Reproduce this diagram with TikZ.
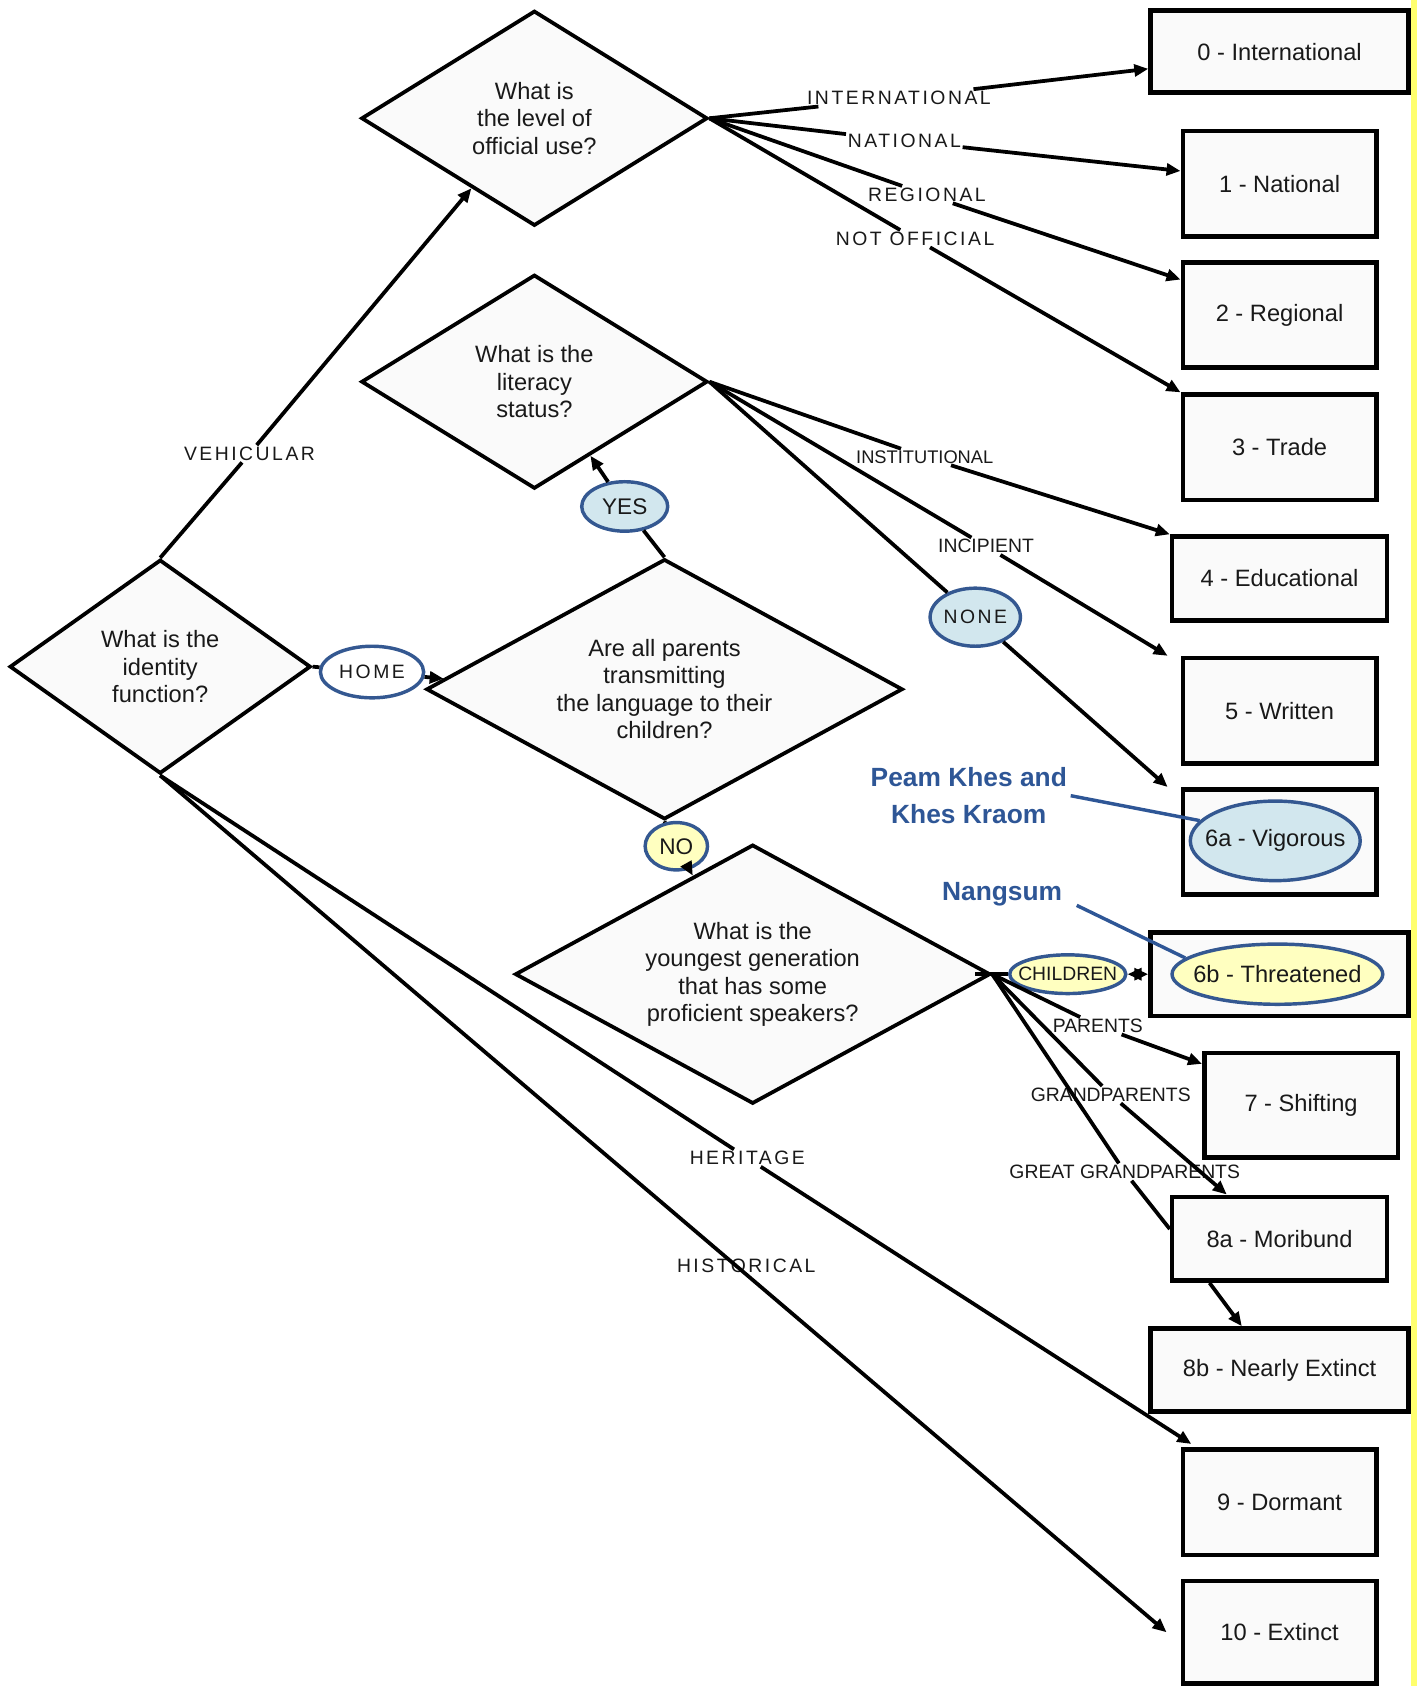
\documentclass[tikz,border=0pt]{standalone}
\usepackage{fontspec}
\setmainfont{Liberation Sans}
\newfontfamily\spacedfont{Liberation Sans}[LetterSpace=13]
\usetikzlibrary{shapes.geometric,arrows.meta,calc}
\definecolor{boxfill}{RGB}{250,250,250}
\definecolor{ebord}{RGB}{52,88,145}
\definecolor{lblue}{RGB}{210,231,238}
\definecolor{lyellow}{RGB}{255,255,192}
\definecolor{annblue}{RGB}{46,86,150}
\definecolor{stripyellow}{RGB}{255,255,110}
\definecolor{txt}{RGB}{25,25,25}
\begin{document}
\begin{tikzpicture}[x=1pt,y=-1pt,
  diam/.style={diamond, draw, line width=3.5pt, fill=boxfill, align=center, inner sep=0pt, text=txt, font=\fontsize{22}{25.5}\selectfont},
  box/.style={rectangle, draw, line width=4.2pt, fill=boxfill, inner sep=0pt, text=txt, font=\fontsize{22}{26}\selectfont},
  lbl/.style={inner sep=1.5pt, text=txt, font=\fontsize{18}{20}\selectfont},
  slbl/.style={inner sep=1.5pt, text=txt, font=\spacedfont\fontsize{18}{20}\selectfont},
  oval/.style={ellipse, draw=ebord, line width=3.2pt, inner sep=0pt, text=txt},
  conn/.style={line width=3.5pt},
  arr/.style={conn, -{Triangle[length=13pt,width=11pt]}},
  annline/.style={draw=annblue, line width=3.2pt},
  ann/.style={font=\bfseries\fontsize{24.5}{34}\selectfont, text=annblue, align=center}
]
\useasboundingbox (0,0) rectangle (1318,1568);
\fill[white] (0,0) rectangle (1318,1568);
\fill[stripyellow] (1312,0) rectangle (1318,1568);

% boxes
\node[box, minimum width=240pt, minimum height=76pt] (b0) at (1190,48) {0 - International};
\node[box, minimum width=180pt, minimum height=98pt] (b1) at (1190,171) {1 - National};
\node[box, minimum width=180pt, minimum height=98pt] (b2) at (1190,293) {2 - Regional};
\node[box, minimum width=180pt, minimum height=98pt] (b3) at (1190,416) {3 - Trade};
\node[box, minimum width=200pt, minimum height=78pt] (b4) at (1190,538) {4 - Educational};
\node[box, minimum width=180pt, minimum height=98pt] (b5) at (1190,661) {5 - Written};
\node[box, minimum width=180pt, minimum height=98pt] (b6a) at (1190,783) {};
\node[box, minimum width=240pt, minimum height=78pt] (b6b) at (1190,906) {};
\node[box, minimum width=180pt, minimum height=97pt] (b7) at (1210,1028) {7 - Shifting};
\node[box, minimum width=200pt, minimum height=78pt] (b8a) at (1190,1152) {8a - Moribund};
\node[box, minimum width=240pt, minimum height=77pt] (b8b) at (1190,1274) {8b - Nearly Extinct};
\node[box, minimum width=180pt, minimum height=98pt] (b9) at (1190,1397) {9 - Dormant};
\node[box, minimum width=180pt, minimum height=95pt] (b10) at (1190,1518) {10 - Extinct};

% diamonds
\node[diam, minimum width=322pt, minimum height=200pt, aspect=1.61] (d1) at (497,110) {What is\\the level of\\official use?};
\node[diam, minimum width=322pt, minimum height=199pt, aspect=1.62] (d2) at (497,355) {What is the\\literacy\\status?};
\node[diam, minimum width=280pt, minimum height=199pt, aspect=1.41] (d3) at (149,620) {What is the\\identity\\function?};
\node[diam, minimum width=443pt, minimum height=242pt, aspect=1.83] (d4) at (618,641) {Are all parents\\transmitting\\the language to their\\children?};
\node[diam, minimum width=442pt, minimum height=241pt, aspect=1.83] (d5) at (700,906) {What is the\\youngest generation\\that has some\\proficient speakers?};

% labels
\node[slbl] (lINT) at (836,91) {INTERNATIONAL};
\node[slbl] (lNAT) at (841,131) {NATIONAL};
\node[slbl] (lREG) at (862,181) {REGIONAL};
\node[slbl] (lNOT) at (851,222) {NOT OFFICIAL};
\node[slbl] (lVEH) at (232,422) {VEHICULAR};
\node[lbl, font=\fontsize{17}{20}\selectfont] (lINST) at (860,425) {INSTITUTIONAL};
\node[lbl] (lINC) at (917,508) {INCIPIENT};
\node[slbl] (lHER) at (695,1077) {HERITAGE};
\node[slbl] (lHIS) at (694,1177) {HISTORICAL};
\node[lbl] (lPAR) at (1021,954) {PARENTS};
\node[lbl] (lGP) at (1033,1018) {GRANDPARENTS};
\node[lbl] (lGGP) at (1046,1090) {GREAT GRANDPARENTS};

% ellipse labels
\node[oval, fill=lblue, minimum width=80pt, minimum height=46pt, font=\fontsize{21}{24}\selectfont] (yes) at (581,471) {\makebox[0pt]{YES}};
\node[oval, fill=lyellow, minimum width=58pt, minimum height=44pt, font=\fontsize{21}{24}\selectfont] (no) at (629,787) {\makebox[0pt]{NO}};
\node[oval, fill=white, minimum width=96pt, minimum height=48pt, font=\spacedfont\fontsize{18}{20}\selectfont] (home) at (346,625) {\makebox[0pt]{HOME}};
\node[oval, fill=lblue, minimum width=84pt, minimum height=54pt, font=\spacedfont\fontsize{18}{20}\selectfont] (none) at (907,574) {\makebox[0pt]{NONE}};
\node[oval, fill=lyellow, minimum width=108pt, minimum height=36pt, font=\fontsize{18}{20}\selectfont] (children) at (993,906) {\makebox[0pt]{CHILDREN}};
\node[oval, fill=lblue, minimum width=158pt, minimum height=74pt, font=\fontsize{22}{26}\selectfont] (e6a) at (1186,782) {\makebox[0pt]{6a - Vigorous}};
\node[oval, fill=lyellow, minimum width=196pt, minimum height=56pt, font=\fontsize{22}{26}\selectfont] (e6b) at (1188,906) {\makebox[0pt]{6b - Threatened}};

% annotations
\node[ann] (pk) at (901,740) {Peam Khes and\\Khes Kraom};
\node[ann] (ng) at (932,832) {Nangsum};

% connectors
\draw[arr] (d1.east) -- (lINT) -- ([yshift=-16pt]b0.west);
\draw[arr] (d1.east) -- (lNAT) -- ([yshift=12pt]b1.west);
\draw[arr] (d1.east) -- (lREG) -- ([yshift=33pt]b2.west);
\draw[arr] (d1.east) -- (lNOT) -- (b3.north west);
\draw[arr] (d3.north) -- (lVEH) -- ($(d1.west)!0.64!(d1.south)$);
\draw[arr] (d2.east) -- (lINST) -- (b4.north west);
\draw[arr] (d2.east) -- (lINC) -- ([xshift=-12pt]b5.north west);
\draw[arr] (d2.east) -- (none) -- ([xshift=-12pt]b6a.north west);
\draw[arr] (d4.north) -- (yes) -- ($(d2.south)!0.32!(d2.east)$);
\draw[arr] (d3.east) -- (home) -- ($(d4.west)!0.08!(d4.north)$);
\draw[arr] (d4.south) -- (no) -- ($(d5.west)!0.75!(d5.north)$);
\draw[arr] (d3.south) -- (lHER) -- ([xshift=10pt,yshift=3pt]b9.north west);
\draw[arr] (d3.south) -- ([xshift=-13pt]b10.west);
\draw[conn, {Triangle[length=13pt,width=11pt]}-{Triangle[length=13pt,width=11pt]}] ([xshift=-16pt]d5.east) -- (children) -- (b6b.west);
\draw[arr] (d5.east) -- (lPAR) -- ([yshift=-12pt]b7.north west);
\draw[arr] (d5.east) -- (lGP) -- ([xshift=53pt]b8a.north west);
\draw[conn] (d5.east) -- (lGGP) -- ([yshift=9pt]b8a.west);
\draw[arr] ([xshift=37pt]b8a.south west) -- ([xshift=87pt]b8b.north west);

\draw[annline] (pk.east) -- (e6a.165);
\draw[annline] ([xshift=10pt,yshift=-10pt]ng.east) -- (e6b.170);
\end{tikzpicture}
\end{document}
